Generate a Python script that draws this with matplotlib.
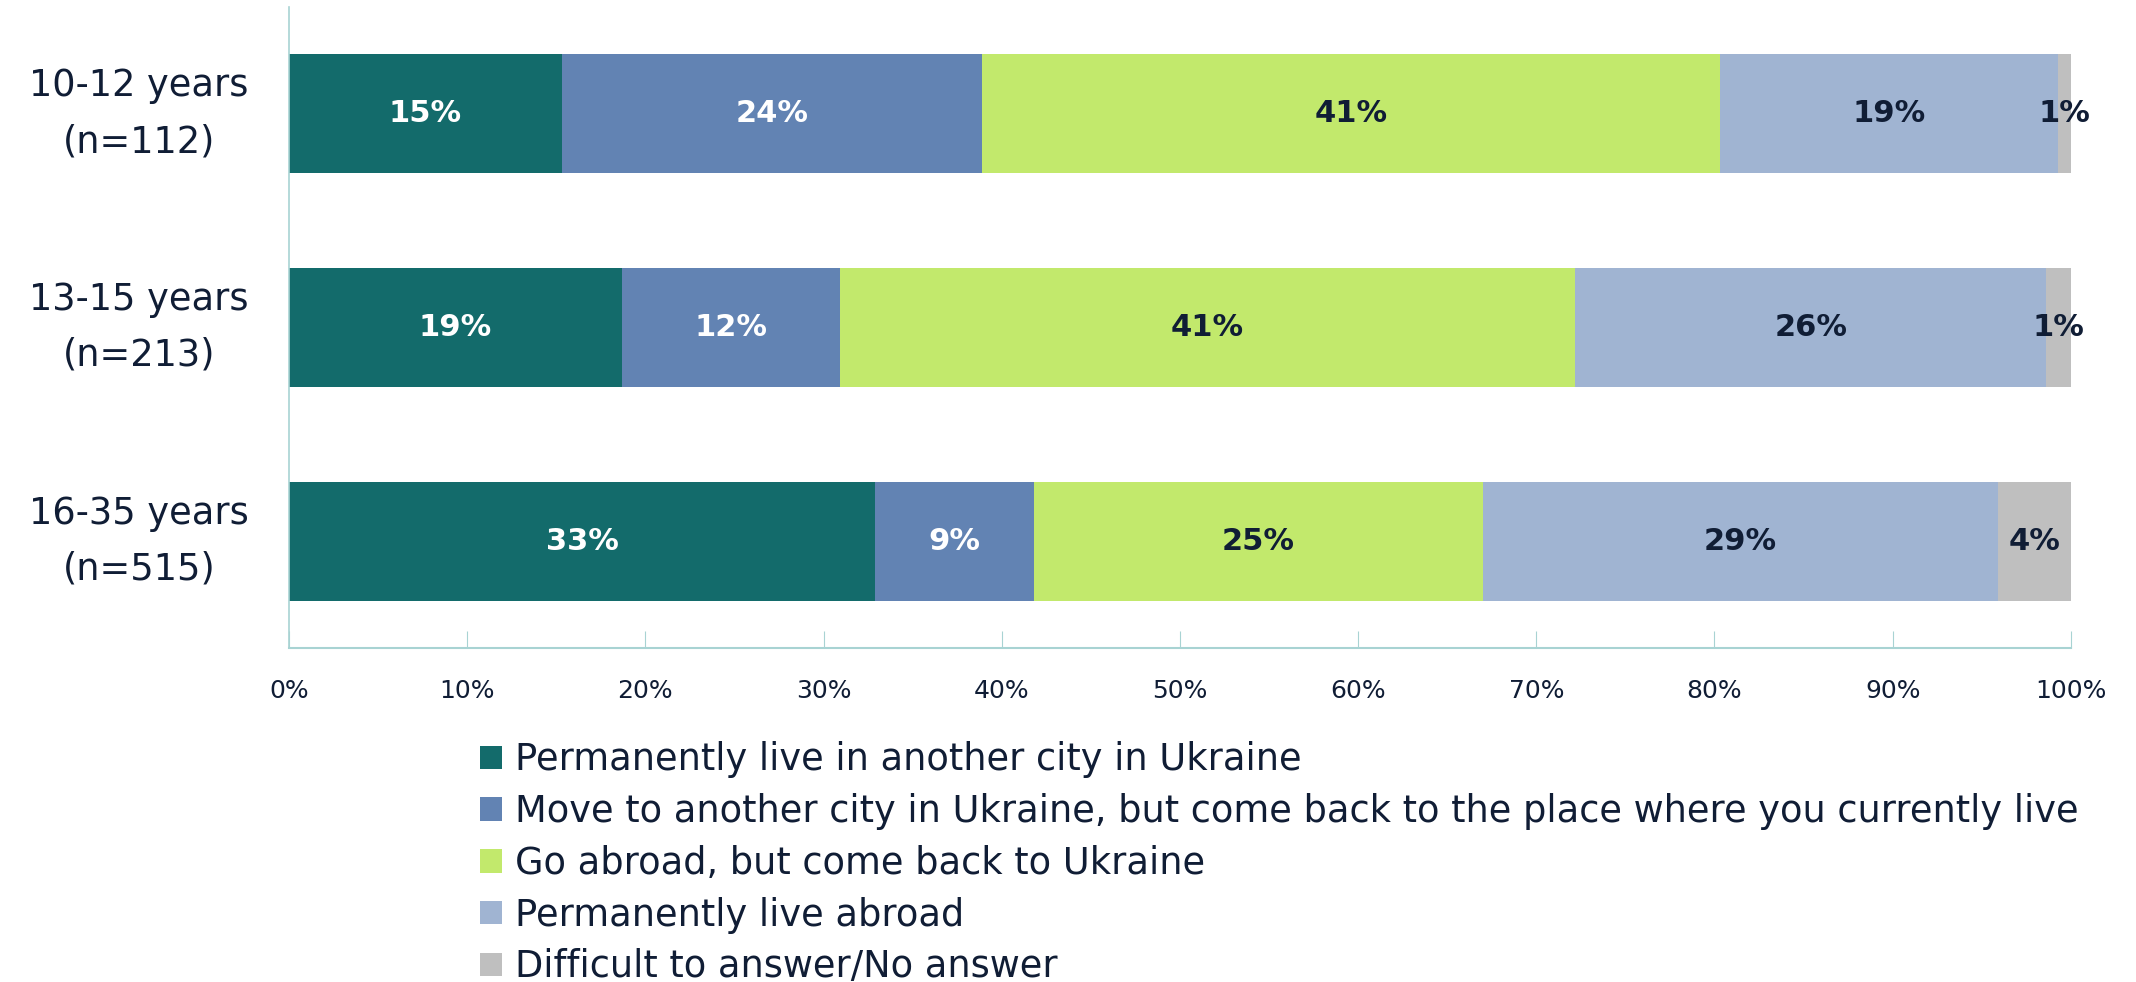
import numpy as np
import matplotlib.pyplot as plt

groups = ["10-12 years\n(n=112)", "13-15 years\n(n=213)", "16-35 years\n(n=515)"]
series = [
    "Permanently live in another city in Ukraine",
    "Move to another city in Ukraine, but come back to the place where you currently live",
    "Go abroad, but come back to Ukraine",
    "Permanently live abroad",
    "Difficult to answer/No answer",
]
# share per group, in %
live_other_city = [15.3, 18.7, 32.9]
move_come_back = [23.6, 12.2, 8.9]
abroad_come_back = [41.4, 41.3, 25.2]
live_abroad = [19.0, 26.4, 28.9]
no_answer = [0.7, 1.4, 4.1]

colors = ["#136b6b", "#6283b3", "#c2e96c", "#a0b4d2", "#bfbfbf"]
text_colors = ["white", "white", "#101d35", "#101d35", "#101d35"]
dark = "#101d35"
axis_col = "#a8d3d3"

plt.rcParams['font.family'] = ['DejaVu Sans']

fig = plt.figure(figsize=(21.36, 9.82), dpi=100)
ax = fig.add_axes([0.1353, 0.340, 0.8342, 0.653])

data = [live_other_city, move_come_back, abroad_come_back, live_abroad, no_answer]
y = np.arange(len(groups))
left = np.zeros(len(groups))
for vals, name, c, tc in zip(data, series, colors, text_colors):
    vals = np.array(vals)
    bars = ax.barh(y, vals, left=left, height=0.555, color=c, label=name)
    for b, v in zip(bars, vals):
        ax.text(b.get_x() + b.get_width() / 2, b.get_y() + b.get_height() / 2,
                f"{v:.0f}%", ha='center', va='center', color=tc,
                fontsize=22, fontweight='bold')
    left += vals

ax.set_xlim(0, 100)
ax.set_ylim(2.5, -0.5)
ax.set_yticks(y)
ax.set_yticklabels(groups, fontsize=26.5, color=dark, linespacing=1.65,
                   ha='center', va='center')
ax.tick_params(axis='y', length=0, pad=108)
ax.set_xticks(np.arange(0, 101, 10))
ax.set_xticklabels([f"{t}%" for t in range(0, 101, 10)], fontsize=18, color=dark)
ax.tick_params(axis='x', direction='in', length=12, color=axis_col, pad=22)
for s in ['top', 'right']:
    ax.spines[s].set_visible(False)
ax.spines['left'].set_color(axis_col)
ax.spines['bottom'].set_color(axis_col)
ax.spines['left'].set_linewidth(1.2)
ax.spines['bottom'].set_linewidth(1.5)

fig.legend(loc='upper left', bbox_to_anchor=(0.2247, 0.245), frameon=False,
           fontsize=26.5, handlelength=0.6, handleheight=0.6, handletextpad=0.35,
           labelspacing=0.4, borderpad=0, borderaxespad=0, labelcolor=dark)

fig.savefig("out.png", dpi=100)
